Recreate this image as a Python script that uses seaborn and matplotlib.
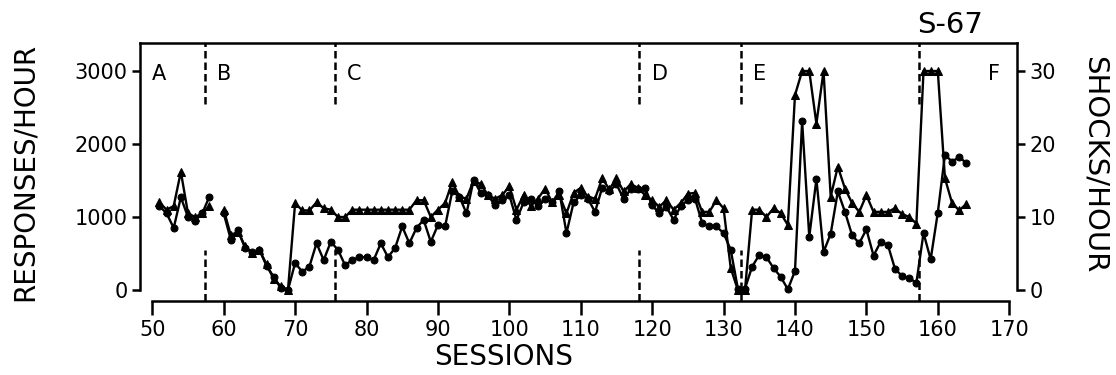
import matplotlib
matplotlib.use("Agg")
import matplotlib.pyplot as plt
import pandas as pd
import seaborn as sns

# sessions of phase A, then B-F (no session 59)
SESSIONS_A = [51, 52, 53, 54, 55, 56, 57, 58]
SESSIONS_REST = list(range(60, 165))

RESP_A = [1150, 1050, 850, 1270, 1000, 950, 1050, 1280]
RESP_REST = [
    1050, 690, 820, 570, 520, 550, 330, 180, 25, 0,            # 60-69
    370, 250, 320, 640, 410, 660, 550, 340, 410, 450,          # 70-79
    450, 410, 640, 450, 575, 870, 640, 850, 960, 660,          # 80-89
    890, 870, 1350, 1280, 1050, 1510, 1330, 1300, 1160, 1230,  # 90-99
    1300, 960, 1200, 1250, 1150, 1250, 1200, 1350, 780, 1200,  # 100-109
    1300, 1250, 1070, 1400, 1350, 1450, 1250, 1380, 1380, 1400,  # 110-119
    1160, 1050, 1140, 960, 1150, 1230, 1250, 920, 870, 870,    # 120-129
    780, 550, 20, 20, 320, 480, 450, 300, 180, 10,             # 130-139
    260, 2310, 730, 1520, 520, 770, 1350, 1070, 750, 640,      # 140-149
    830, 470, 660, 620, 290, 190, 160, 100, 780, 420,          # 150-159
    1060, 1850, 1760, 1820, 1740,                              # 160-164
]

SHOCK_A = [12, 11, 11.5, 16.2, 10.5, 10, 10.5, 11.5]
SHOCK_REST = [
    11, 7.5, 8, 6, 5, 5.5, 3.5, 1.5, 0.5, 0,                   # 60-69
    11.9, 10.9, 10.9, 12, 11.2, 11, 10, 10, 11, 11,            # 70-79
    11, 11, 11, 11, 11, 11, 11, 12.3, 12.3, 10,                # 80-89
    11, 11.9, 14.8, 12.8, 12.5, 15, 14.5, 13, 12.5, 13,        # 90-99
    14.2, 11, 13, 11.5, 12.5, 13.9, 12, 13, 10.5, 13.3,        # 100-109
    14, 12.8, 12.5, 15.3, 13.8, 15.3, 13.5, 14.5, 14, 13,      # 110-119
    12.3, 11.4, 12.3, 11, 11.9, 13.2, 13.3, 10.7, 10.7, 12.3,  # 120-129
    11.2, 3, 0, 0, 11, 11, 10, 11.2, 10.5, 8.9,                # 130-139
    26.7, 30, 30, 22.8, 30, 12.8, 16.9, 13.9, 11.9, 10.7,      # 140-149
    13, 10.7, 10.7, 10.7, 11.2, 10.4, 10, 9.1, 30, 30,         # 150-159
    30, 15.3, 11.9, 10.9, 11.8,                                # 160-164
]

PHASE_LINES = [57.4, 75.6, 118.2, 132.4, 157.4]
PHASE_LABELS = ["A", "B", "C", "D", "E", "F"]
PHASE_LABEL_X = [50.0, 59.1, 77.3, 120.0, 134.1, 167.0]

df = pd.DataFrame({
    "session": SESSIONS_A + SESSIONS_REST,
    "responses": RESP_A + RESP_REST,
    "shocks": SHOCK_A + SHOCK_REST,
    "segment": ["A"] * len(SESSIONS_A) + ["B-F"] * len(SESSIONS_REST),
})

sns.set_style("ticks")
plt.rcParams["font.family"] = ["DejaVu Sans"]
plt.rcParams.update({"text.color": "black", "axes.labelcolor": "black",
                     "xtick.color": "black", "ytick.color": "black",
                     "axes.edgecolor": "black"})

W, H = 1116, 375
fig = plt.figure(figsize=(W / 100, H / 100), dpi=100)
ax = fig.add_axes([140 / W, 74 / H, 877 / W, 258 / H])

YTOP = 3384
YBOT = -151

sns.lineplot(data=df, x="session", y="responses", units="segment", estimator=None,
             marker="o", markersize=5, color="black", linewidth=1.7,
             markeredgecolor="black", sort=False, ax=ax)
ax.set_xlim(48.28, 171.09)
ax.set_ylim(YBOT, YTOP)

ax2 = ax.twinx()
sns.lineplot(data=df, x="session", y="shocks", units="segment", estimator=None,
             marker="^", markersize=5.5, color="black", linewidth=1.7,
             markeredgecolor="black", sort=False, ax=ax2)
ax2.set_ylim(YBOT / 100, YTOP / 100)

# phase change lines, broken in the middle
for xv in PHASE_LINES:
    ax.vlines(xv, 2550, YTOP, colors="black", linestyles=(0, (3, 1.6)), linewidth=1.8)
    ax.vlines(xv, YBOT, 550, colors="black", linestyles=(0, (3, 1.6)), linewidth=1.8)

for lab, xv in zip(PHASE_LABELS, PHASE_LABEL_X):
    ax.text(xv, 2960, lab, fontsize=15, ha="left", va="center")

# frame
for a in (ax, ax2):
    for sp in a.spines.values():
        sp.set_linewidth(1.8)
ax.spines["right"].set_visible(False)
ax2.spines["left"].set_visible(False)
ax2.spines["top"].set_visible(False)
ax2.spines["bottom"].set_visible(False)
ax.spines["bottom"].set_bounds(50, 170)
ax.spines["left"].set_bounds(0, YTOP)
ax2.spines["right"].set_bounds(0, YTOP / 100)

ax.set_xticks(range(50, 171, 10))
ax.set_yticks([0, 1000, 2000, 3000])
ax2.set_yticks([0, 10, 20, 30])
ax.tick_params(axis="x", direction="out", length=10, width=1.8, labelsize=15, pad=4)
ax.tick_params(axis="y", direction="out", length=6, width=1.8, labelsize=15, pad=3)
ax2.tick_params(axis="y", direction="out", length=6, width=1.8, labelsize=15, pad=3)

ax.set_xlabel("")
ax.set_ylabel("")
ax2.set_ylabel("")

fig.text(25 / W, 1 - 172 / H, "RESPONSES/HOUR", rotation=90, fontsize=20,
         ha="center", va="center")
fig.text(1095 / W, 1 - 165 / H, "SHOCKS/HOUR", rotation=-90, fontsize=21,
         ha="center", va="center")
fig.text(504 / W, 1 - 357 / H, "SESSIONS", fontsize=20, ha="center", va="center")
fig.text(950 / W, 1 - 25 / H, "S-67", fontsize=21, ha="center", va="center")

fig.savefig("out.png", dpi=100)
